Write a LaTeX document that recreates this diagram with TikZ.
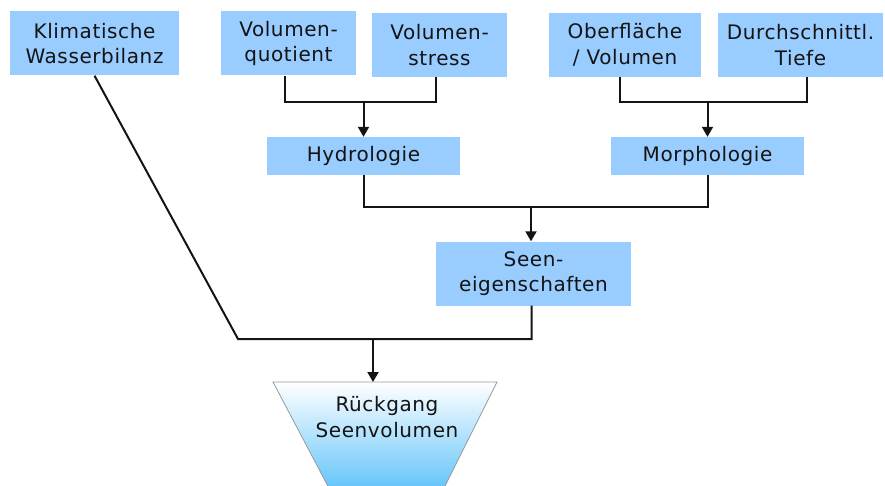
\documentclass[tikz,border=0pt]{standalone}
\usepackage{fontspec}
\setmainfont{DejaVu Sans}[LetterSpace=3]
\usepackage{tikz}
\usetikzlibrary{arrows.meta, calc}

\definecolor{boxblue}{RGB}{153,204,255}
\definecolor{lakeblue}{RGB}{95,195,250}
\definecolor{ink}{RGB}{20,20,20}

\begin{document}
\begin{tikzpicture}[
    x=1pt, y=-1pt,
    every node/.style={font=\fontsize{20}{25.5}\selectfont, text=ink},
    bx/.style={fill=boxblue, align=center, inner sep=0pt, minimum height=64pt},
    wide/.style={bx, minimum height=38pt},
    ln/.style={draw=ink, line width=2pt},
    arr/.style={ln, -{Triangle[length=10pt, width=11pt]}},
]
\useasboundingbox (0,0) rectangle (885,486);

% TOP ROW: indicators
\node[bx, minimum width=169pt] (klima) at (94.5, 43.5) {Klimatische\\Wasserbilanz};
\node[bx, minimum width=135pt] (vquot) at (288.5, 43.5) {Volumen-\\quotient};
\node[bx, minimum width=135pt] (vstress) at (439.5, 45) {Volumen-\\stress};
\node[bx, minimum width=152pt] (oberfl) at (625, 45) {Oberfläche\\/ Volumen};
\node[bx, minimum width=165pt] (tiefe) at (800.5, 45) {Durchschnittl.\\Tiefe};

% MIDDLE ROW: hydrology / morphology
\node[wide, minimum width=193pt] (hydro) at (363.5, 156) {Hydrologie};
\node[wide, minimum width=193pt] (morph) at (707.5, 156) {Morphologie};

% LAKE PROPERTIES
\node[bx, minimum width=195pt] (eigen) at (533.5, 273.5) {Seen-\\eigenschaften};

% RESULT: funnel
\coordinate (tl) at (273, 382);
\coordinate (tr) at (497, 382);
\shade[top color=white, bottom color=lakeblue] (tl) -- (tr) -- (442, 492) -- (331, 492) -- cycle;
\draw[black!40, line width=0.8pt] (331, 492) -- (tl) -- (tr) -- (442, 492);
\node[align=center] (rueck) at (387, 417) {Rückgang\\Seenvolumen};

% Junctions
\coordinate (j1) at (363.5, 102);
\coordinate (j2) at (707.5, 102);
\coordinate (j3) at (531, 207);
\coordinate (j4) at (373, 339);
\coordinate (j5) at (238, 339);

% Connectors
\draw[ln] ([xshift=-4pt]vquot.south) |- (j1) -| ([xshift=-4pt]vstress.south);
\draw[arr] (j1) -- (hydro.north);
\draw[ln] ([xshift=-5pt]oberfl.south) |- (j2) -| ([xshift=6pt]tiefe.south);
\draw[arr] (j2) -- (morph.north);
\draw[ln] (hydro.south) |- (j3) -| (morph.south);
\draw[arr] (j3) -- (j3 |- eigen.north);
\draw[ln] (klima.south) -- (j5) -| ([xshift=-2pt]eigen.south);
\draw[arr] (j4) -- (j4 |- tl);

\end{tikzpicture}
\end{document}
